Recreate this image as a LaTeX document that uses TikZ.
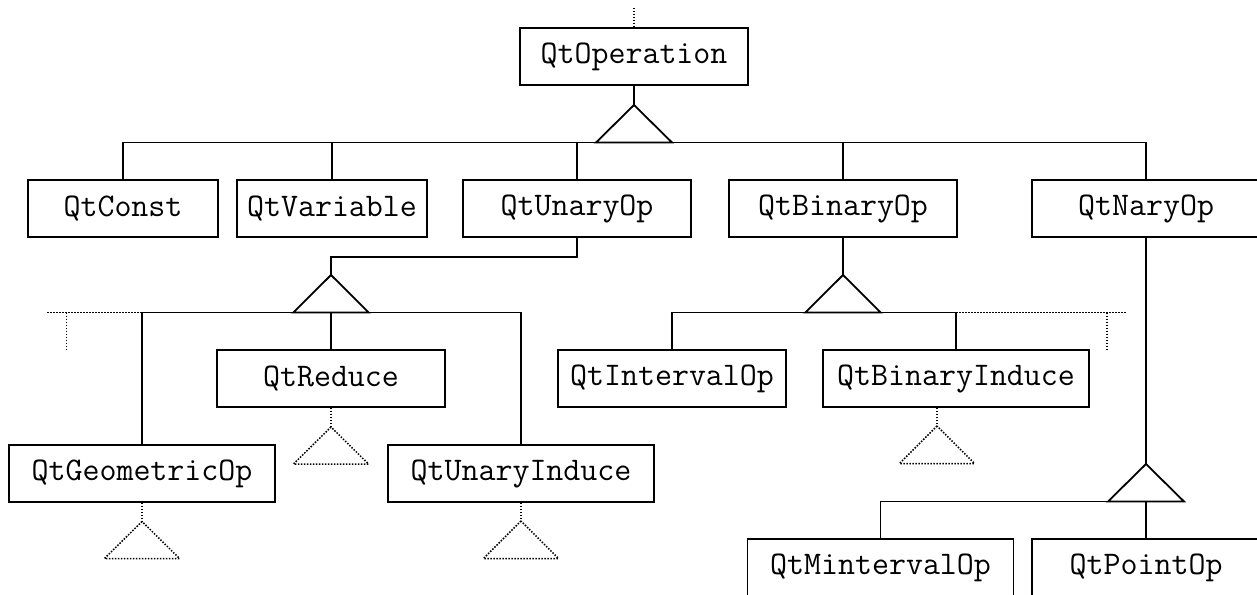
\documentclass[tikz,border=0pt]{standalone}
\usepackage{fontspec}
\begin{document}
\begin{tikzpicture}[x=1pt,y=-1pt,
  box/.style={draw,line width=1.8pt,inner sep=0pt,minimum height=57pt,font=\ttfamily\fontsize{33}{38}\selectfont},
  wbox/.style={box,minimum width=228pt},
  nbox/.style={box,minimum width=190pt},
  lbox/.style={box,minimum width=266pt},
  link/.style={line width=1.8pt},
  dots/.style={line width=1.5pt,dash pattern=on 1.5pt off 1.5pt}]
\clip (0,0) rectangle (1257,594);
\fill[white] (0,0) rectangle (1257,594);
% boxes
\node[wbox] (op) at (634,56.5) {QtOperation};
\node[nbox] (const) at (123,208.5) {QtConst};
\node[nbox] (var) at (332,208.5) {QtVariable};
\node[wbox] (unary) at (577,208.5) {QtUnaryOp};
\node[wbox] (binary) at (843,208.5) {QtBinaryOp};
\node[wbox] (nary) at (1146,208.5) {QtNaryOp};
\node[wbox] (reduce) at (331,378.5) {QtReduce};
\node[wbox] (interval) at (672,378.5) {QtIntervalOp};
\node[lbox] (binduce) at (956,378.5) {QtBinaryInduce};
\node[lbox] (geom) at (142,473.5) {QtGeometricOp};
\node[lbox] (uinduce) at (521,473.5) {QtUnaryInduce};
\node[lbox] (mint) at (880.5,567.5) {QtMintervalOp};
\node[wbox] (point) at (1146,567.5) {QtPointOp};
% triangle apexes and bars
\coordinate (t0) at (634,105);
\coordinate (t1) at (331,275);
\coordinate (t2) at (843,275);
\coordinate (t3) at (1146,464);
\coordinate (b0) at (0,142.5);
\coordinate (b1) at (0,312.5);
\coordinate (b3) at (0,501.5);
\coordinate (top) at (634,8);
\coordinate (dl) at (47,312.5);
\coordinate (dlv) at (66.7,350);
\coordinate (dr) at (1126,312.5);
\coordinate (drv) at (1107,351);
% top level
\draw[dots] (top) -- (op.north);
\draw[link] (op.south) -- (t0);
\draw[link] (t0) -- ++(-38,37.5) -- ++(76,0) -- cycle;
\draw[link] (const.north) -- (const.north |- b0) -- (nary.north |- b0) -- (nary.north);
\draw[link] (var.north) -- (var.north |- b0);
\draw[link] (unary.north) -- (unary.north |- b0);
\draw[link] (binary.north) -- (binary.north |- b0);
% unary branch
\draw[link] (unary.south) -- ++(0,19) -| (t1);
\draw[link] (t1) -- ++(-37.7,37.5) -- ++(75.4,0) -- cycle;
\draw[link] (geom.north) -- (geom.north |- b1) -- (uinduce.north |- b1) -- (uinduce.north);
\draw[link] (reduce.north) -- (reduce.north |- b1);
\draw[dots] (dl) -- (geom.north |- b1);
\draw[dots] (dlv |- b1) -- (dlv);
% binary branch
\draw[link] (binary.south) -- (t2);
\draw[link] (t2) -- ++(-37.7,37.5) -- ++(75.4,0) -- cycle;
\draw[link] (interval.north) -- (interval.north |- b1) -- (binduce.north |- b1) -- (binduce.north);
\draw[dots] (binduce.north |- b1) -- (dr);
\draw[dots] (drv |- b1) -- (drv);
% nary branch
\draw[link] (nary.south) -- (t3);
\draw[link] (t3) -- ++(-38,37.5) -- ++(76,0) -- cycle;
\draw[link] (mint.north) -- (mint.north |- b3) -- (point.north |- b3) -- (point.north);
% dotted subclass triangles
\coordinate (r1) at (331,427);
\coordinate (g1) at (142,521.5);
\coordinate (u1) at (521,521);
\coordinate (bi1) at (937,426);
\draw[dots] (reduce.south) -- (r1);
\draw[dots] (r1) -- ++(-37.5,37) -- ++(75,0) -- cycle;
\draw[dots] (geom.south) -- (g1);
\draw[dots] (g1) -- ++(-37.5,37) -- ++(75,0) -- cycle;
\draw[dots] (uinduce.south) -- (u1);
\draw[dots] (u1) -- ++(-37.5,37.5) -- ++(75,0) -- cycle;
\draw[dots] (binduce.south -| bi1) -- (bi1);
\draw[dots] (bi1) -- ++(-37.5,37.5) -- ++(75,0) -- cycle;
\end{tikzpicture}
\end{document}
